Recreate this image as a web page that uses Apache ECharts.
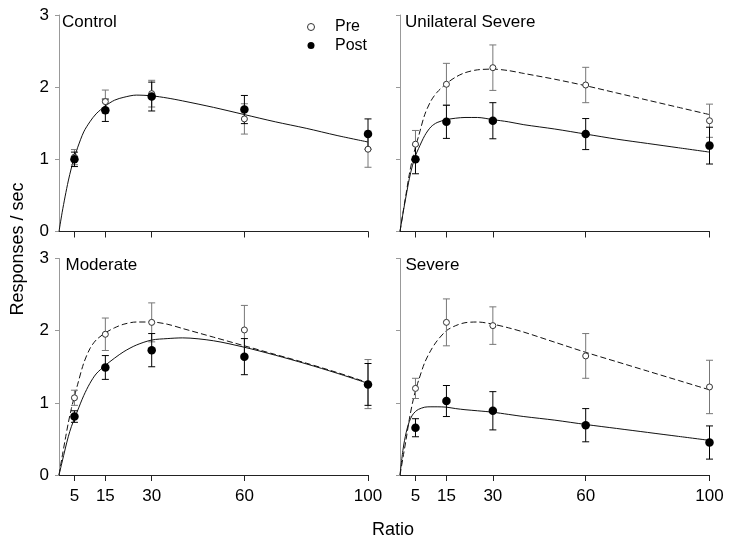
<!DOCTYPE html>
<html>
<head>
<meta charset="utf-8">
<script src="https://cdn.jsdelivr.net/npm/echarts@6/dist/echarts.min.js"></script>
<style>html,body{margin:0;padding:0;background:#fff}#c{width:729px;height:546px}</style>
</head>
<body>
<div id="c"></div>
<script>
// ---- data ----
const ratios = [5, 15, 30, 60, 100];
const xTickLabels = ['5', '15', '30', '60', '100'];
const panelNames = ['Control', 'Unilateral Severe', 'Moderate', 'Severe'];

const controlPre = [1.03, 1.80, 1.91, 1.56, 1.14];
const controlPreErr = [0.105, 0.16, 0.185, 0.21, 0.25];
const controlPost = [1.00, 1.68, 1.87, 1.69, 1.35];
const controlPostErr = [0.10, 0.155, 0.20, 0.195, 0.21];

const unilatPre = [1.21, 2.04, 2.27, 2.03, 1.535];
const unilatPreErr = [0.19, 0.29, 0.315, 0.245, 0.23];
const unilatPost = [1.00, 1.52, 1.535, 1.35, 1.19];
const unilatPostErr = [0.20, 0.23, 0.25, 0.215, 0.255];

const moderatePre = [1.07, 1.95, 2.115, 2.01, 1.26];
const moderatePreErr = [0.105, 0.225, 0.27, 0.34, 0.34];
const moderatePost = [0.81, 1.49, 1.73, 1.64, 1.255];
const moderatePostErr = [0.08, 0.165, 0.23, 0.25, 0.29];

const severePre = [1.20, 2.115, 2.07, 1.65, 1.22];
const severePreErr = [0.14, 0.325, 0.26, 0.31, 0.37];
const severePost = [0.655, 1.025, 0.89, 0.69, 0.45];
const severePostErr = [0.125, 0.215, 0.265, 0.23, 0.23];

// fitted curves at these ratios
const curveX = [0, 1, 2, 3, 4, 5, 6, 8, 10, 12, 15, 18, 21, 25, 30, 35, 40, 50, 60, 70, 80, 90, 100];
const controlCurvePost = [0, 0.26, 0.49, 0.70, 0.88, 1.03, 1.16, 1.38, 1.52, 1.63, 1.74, 1.82, 1.86, 1.89, 1.88, 1.85, 1.81, 1.72, 1.62, 1.52, 1.43, 1.33, 1.24];
const unilatCurvePre   = [0, 0.27, 0.53, 0.79, 1.00, 1.17, 1.32, 1.62, 1.81, 1.93, 2.05, 2.14, 2.20, 2.24, 2.25, 2.23, 2.19, 2.11, 2.02, 1.92, 1.82, 1.72, 1.62];
const unilatCurvePost  = [0, 0.26, 0.50, 0.73, 0.91, 1.05, 1.15, 1.33, 1.45, 1.51, 1.55, 1.57, 1.58, 1.58, 1.55, 1.52, 1.48, 1.42, 1.35, 1.28, 1.22, 1.16, 1.10];
const moderateCurvePre = [0, 0.25, 0.49, 0.72, 0.92, 1.09, 1.25, 1.55, 1.75, 1.87, 1.97, 2.04, 2.09, 2.12, 2.12, 2.09, 2.03, 1.91, 1.79, 1.67, 1.55, 1.42, 1.28];
const moderateCurvePost= [0, 0.18, 0.36, 0.53, 0.67, 0.78, 0.89, 1.10, 1.27, 1.40, 1.52, 1.62, 1.71, 1.80, 1.87, 1.89, 1.90, 1.86, 1.77, 1.66, 1.54, 1.41, 1.27];
const severeCurvePre   = [0, 0.25, 0.50, 0.77, 0.99, 1.17, 1.31, 1.56, 1.73, 1.86, 2.00, 2.07, 2.11, 2.12, 2.09, 2.04, 1.98, 1.84, 1.70, 1.57, 1.44, 1.31, 1.18];
const severeCurvePost  = [0, 0.36, 0.59, 0.74, 0.83, 0.88, 0.91, 0.94, 0.945, 0.945, 0.94, 0.92, 0.905, 0.89, 0.87, 0.84, 0.81, 0.76, 0.70, 0.645, 0.59, 0.535, 0.48];

// ---- chart ----
const panels = [
  {pre: controlPre, preErr: controlPreErr, post: controlPost, postErr: controlPostErr, cPre: null, cPost: controlCurvePost},
  {pre: unilatPre, preErr: unilatPreErr, post: unilatPost, postErr: unilatPostErr, cPre: unilatCurvePre, cPost: unilatCurvePost},
  {pre: moderatePre, preErr: moderatePreErr, post: moderatePost, postErr: moderatePostErr, cPre: moderateCurvePre, cPost: moderateCurvePost},
  {pre: severePre, preErr: severePreErr, post: severePost, postErr: severePostErr, cPre: severeCurvePre, cPost: severeCurvePost}
];
const FONT = 'Liberation Sans, Arial, sans-serif';
const grids = [
  {left: 59, top: 15, width: 309, height: 216.5},
  {left: 400, top: 15, width: 309.5, height: 216.5},
  {left: 59, top: 258.5, width: 309, height: 216.5},
  {left: 400, top: 258.5, width: 309.5, height: 216.5}
];
const xAxes = grids.map((g, i) => ({
  type: 'value', gridIndex: i, min: 0, max: 100,
  axisLine: {show: true, lineStyle: {color: '#222', width: 1}},
  axisTick: {show: true, customValues: ratios, length: 6, lineStyle: {color: '#222'}},
  axisLabel: {show: i >= 2, customValues: ratios, formatter: v => xTickLabels[ratios.indexOf(v)] || '',
    fontSize: 17, fontFamily: FONT, color: '#000', margin: 13},
  splitLine: {show: false}
}));
const yAxes = grids.map((g, i) => ({
  type: 'value', gridIndex: i, min: 0, max: 3, interval: 1,
  axisLine: {show: true, onZero: false, lineStyle: {color: '#999', width: 1}},
  axisTick: {show: true, length: 4, lineStyle: {color: '#999'}},
  axisLabel: {show: i % 2 === 0, fontSize: 17, fontFamily: FONT, color: '#000', margin: 10},
  splitLine: {show: false}
}));

function errRender(params, api) {
  const x = api.value(0), y = api.value(1), e = api.value(2);
  const top = api.coord([x, y + e]);
  const bot = api.coord([x, y - e]);
  const w = 3.5;
  const st = {stroke: api.visual('color'), lineWidth: 1};
  return {type: 'group', children: [
    {type: 'line', shape: {x1: top[0], y1: top[1], x2: bot[0], y2: bot[1]}, style: st},
    {type: 'line', shape: {x1: top[0] - w, y1: top[1], x2: top[0] + w, y2: top[1]}, style: st},
    {type: 'line', shape: {x1: bot[0] - w, y1: bot[1], x2: bot[0] + w, y2: bot[1]}, style: st}
  ]};
}

const series = [];
panels.forEach((p, i) => {
  if (p.cPre) series.push({type: 'line', name: 'PreFit', xAxisIndex: i, yAxisIndex: i, silent: true,
    data: curveX.map((x, k) => [x, p.cPre[k]]), smooth: 0.3, showSymbol: false, z: 2,
    lineStyle: {color: '#111', width: 1, type: [6, 3]}});
  series.push({type: 'line', name: 'PostFit', xAxisIndex: i, yAxisIndex: i, silent: true,
    data: curveX.map((x, k) => [x, p.cPost[k]]), smooth: 0.3, showSymbol: false, z: 2,
    lineStyle: {color: '#111', width: 1}});
  series.push({type: 'custom', name: 'PreErr', xAxisIndex: i, yAxisIndex: i, renderItem: errRender, z: 3,
    itemStyle: {color: '#777'}, data: ratios.map((x, k) => [x, p.pre[k], p.preErr[k]])});
  series.push({type: 'custom', name: 'PostErr', xAxisIndex: i, yAxisIndex: i, renderItem: errRender, z: 4,
    itemStyle: {color: '#000'}, data: ratios.map((x, k) => [x, p.post[k], p.postErr[k]])});
  series.push({type: 'scatter', name: 'Pre', xAxisIndex: i, yAxisIndex: i, symbol: 'circle', symbolSize: 6, z: 5,
    itemStyle: {color: '#fff', borderColor: '#333', borderWidth: 1, opacity: 1}, data: ratios.map((x, k) => [x, p.pre[k]])});
  series.push({type: 'scatter', name: 'Post', xAxisIndex: i, yAxisIndex: i, symbol: 'circle', symbolSize: 8.5, z: 6,
    itemStyle: {color: '#000', opacity: 1}, data: ratios.map((x, k) => [x, p.post[k]])});
});

const titlePos = [[62, 22.5], [405, 22.3], [65.5, 265.3], [405.5, 265.3]];
const graphics = panelNames.map((n, i) => ({
  type: 'text', x: titlePos[i][0], y: titlePos[i][1],
  style: {text: n, fontSize: 17, fontFamily: FONT, fill: '#000', textVerticalAlign: 'middle', textAlign: 'left'}
}));
graphics.push({type: 'text', x: 18, y: 249, rotation: Math.PI / 2,
  style: {text: 'Responses / sec', fontSize: 18, fontFamily: FONT, fill: '#000', textAlign: 'center', textVerticalAlign: 'middle'}});
graphics.push({type: 'text', x: 393, y: 530,
  style: {text: 'Ratio', fontSize: 18, fontFamily: FONT, fill: '#000', textAlign: 'center', textVerticalAlign: 'middle'}});

const chart = echarts.init(document.getElementById('c'), null, {renderer: 'canvas'});
chart.setOption({
  animation: false,
  backgroundColor: '#fff',
  grid: grids,
  xAxis: xAxes,
  yAxis: yAxes,
  legend: {
    orient: 'vertical', left: 302, top: 14, itemWidth: 38, itemHeight: 7, itemGap: 2.5,
    selectedMode: false,
    textStyle: {fontSize: 16, fontFamily: FONT, color: '#000', lineHeight: 16},
    data: [
      {name: 'Pre', icon: 'circle', itemStyle: {color: '#fff', borderColor: '#333', borderWidth: 1}},
      {name: 'Post', icon: 'circle', itemStyle: {color: '#000'}}
    ]
  },
  graphic: graphics,
  series: series
});
</script>
</body>
</html>
